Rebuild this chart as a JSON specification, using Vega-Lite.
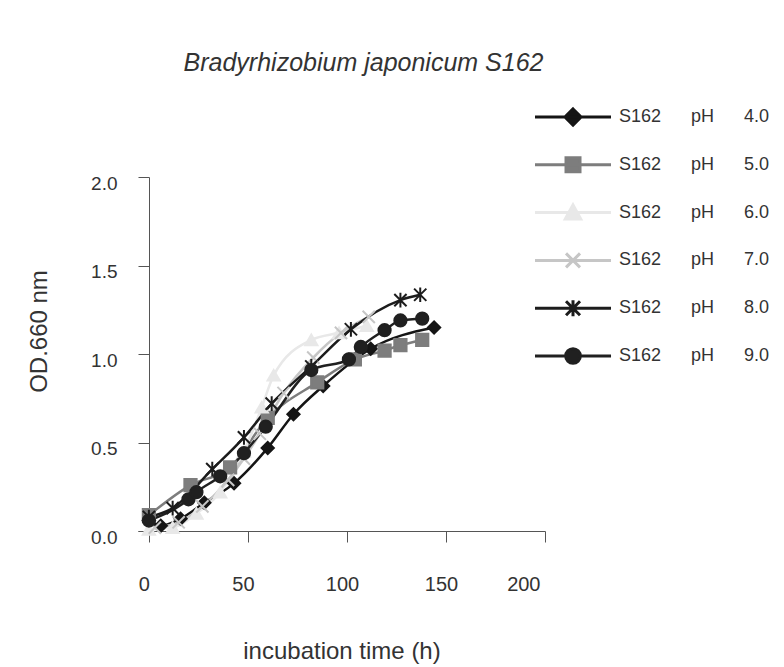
{
  "$schema": "https://vega.github.io/schema/vega-lite/v6.json",
  "width": 407,
  "height": 363,
  "autosize": {"type": "none"},
  "padding": {"left": 138, "top": 177, "right": 239, "bottom": 127},
  "background": "white",
  "title": {
    "text": "Bradyrhizobium japonicum  S162",
    "font": "Liberation Sans",
    "fontSize": 25,
    "fontStyle": "italic",
    "fontWeight": "normal",
    "color": "#333333",
    "anchor": "middle",
    "frame": "group",
    "offset": 18,
    "dx": 22
  },
  "config": {
    "view": {"stroke": null},
    "font": "Liberation Sans",
    "legend": {
      "title": null,
      "orient": "none",
      "legendX": 395,
      "legendY": -83,
      "symbolSize": 196,
      "symbolOpacity": 1,
      "symbolStrokeWidth": 3,
      "clipHeight": 46,
      "rowPadding": 1.8,
      "labelFontSize": 18,
      "labelColor": "#333333",
      "labelOffset": 68
    }
  },
  "data": {
    "values": [
      {"pH": "4.0", "t": 0, "od": 0.06},
      {"pH": "4.0", "t": 6, "od": 0.03},
      {"pH": "4.0", "t": 16, "od": 0.07},
      {"pH": "4.0", "t": 28, "od": 0.16},
      {"pH": "4.0", "t": 43, "od": 0.27},
      {"pH": "4.0", "t": 60, "od": 0.47},
      {"pH": "4.0", "t": 73, "od": 0.66},
      {"pH": "4.0", "t": 88, "od": 0.82},
      {"pH": "4.0", "t": 112, "od": 1.03},
      {"pH": "4.0", "t": 144, "od": 1.15},
      {"pH": "5.0", "t": 0, "od": 0.09},
      {"pH": "5.0", "t": 21, "od": 0.26},
      {"pH": "5.0", "t": 41, "od": 0.36},
      {"pH": "5.0", "t": 60, "od": 0.64},
      {"pH": "5.0", "t": 85, "od": 0.84},
      {"pH": "5.0", "t": 104, "od": 0.97},
      {"pH": "5.0", "t": 119, "od": 1.02},
      {"pH": "5.0", "t": 127, "od": 1.05},
      {"pH": "5.0", "t": 138, "od": 1.08},
      {"pH": "6.0", "t": 0, "od": 0.01},
      {"pH": "6.0", "t": 12, "od": 0.02},
      {"pH": "6.0", "t": 24, "od": 0.1},
      {"pH": "6.0", "t": 36, "od": 0.22},
      {"pH": "6.0", "t": 48, "od": 0.45},
      {"pH": "6.0", "t": 57, "od": 0.7},
      {"pH": "6.0", "t": 63, "od": 0.88},
      {"pH": "6.0", "t": 82, "od": 1.08},
      {"pH": "6.0", "t": 96, "od": 1.12},
      {"pH": "6.0", "t": 110, "od": 1.16},
      {"pH": "7.0", "t": 3, "od": 0.02},
      {"pH": "7.0", "t": 15, "od": 0.05},
      {"pH": "7.0", "t": 27, "od": 0.14},
      {"pH": "7.0", "t": 40, "od": 0.29},
      {"pH": "7.0", "t": 48, "od": 0.41},
      {"pH": "7.0", "t": 56, "od": 0.55},
      {"pH": "7.0", "t": 68, "od": 0.78},
      {"pH": "7.0", "t": 83, "od": 0.98},
      {"pH": "7.0", "t": 97, "od": 1.12},
      {"pH": "7.0", "t": 111, "od": 1.21},
      {"pH": "8.0", "t": 0, "od": 0.08},
      {"pH": "8.0", "t": 12, "od": 0.13},
      {"pH": "8.0", "t": 32, "od": 0.35},
      {"pH": "8.0", "t": 48, "od": 0.53},
      {"pH": "8.0", "t": 62, "od": 0.72},
      {"pH": "8.0", "t": 82, "od": 0.93},
      {"pH": "8.0", "t": 102, "od": 1.14},
      {"pH": "8.0", "t": 127, "od": 1.305},
      {"pH": "8.0", "t": 137, "od": 1.335},
      {"pH": "9.0", "t": 0, "od": 0.06},
      {"pH": "9.0", "t": 20, "od": 0.18},
      {"pH": "9.0", "t": 24, "od": 0.22},
      {"pH": "9.0", "t": 36, "od": 0.31},
      {"pH": "9.0", "t": 48, "od": 0.44},
      {"pH": "9.0", "t": 59, "od": 0.59},
      {"pH": "9.0", "t": 82, "od": 0.91},
      {"pH": "9.0", "t": 101, "od": 0.97},
      {"pH": "9.0", "t": 107, "od": 1.04},
      {"pH": "9.0", "t": 119, "od": 1.135},
      {"pH": "9.0", "t": 127, "od": 1.19},
      {"pH": "9.0", "t": 138, "od": 1.2}
    ]
  },
  "encoding": {
    "x": {
      "field": "t",
      "type": "quantitative",
      "scale": {"domain": [-5.5, 200], "nice": false, "zero": false},
      "axis": {
        "title": "incubation time (h)",
        "values": [0, 50, 100, 150, 200],
        "offset": -9,
        "grid": false,
        "domainColor": "#555555",
        "tickColor": "#555555",
        "tickSize": 11,
        "labelFontSize": 20,
        "labelColor": "#333333",
        "labelPadding": 32,
        "labelOffset": -5,
        "titleFontSize": 24,
        "titleFontWeight": "normal",
        "titleColor": "#333333",
        "titlePadding": 45
      }
    },
    "y": {
      "field": "od",
      "type": "quantitative",
      "scale": {"domain": [-0.05, 2.0], "nice": false, "zero": false},
      "axis": {
        "title": "OD.660 nm",
        "values": [0, 0.5, 1.0, 1.5, 2.0],
        "format": ".1f",
        "offset": -11,
        "grid": false,
        "domainColor": "#555555",
        "tickColor": "#555555",
        "tickSize": 11,
        "labelFontSize": 19,
        "labelColor": "#333333",
        "labelPadding": 21,
        "labelOffset": 6,
        "titleFontSize": 24,
        "titleFontWeight": "normal",
        "titleColor": "#333333",
        "titlePadding": 39,
        "titleY": 154
      }
    }
  },
  "layer": [
    {
      "mark": {"type": "line", "interpolate": "monotone", "strokeWidth": 2.5},
      "encoding": {
        "color": {
          "field": "pH",
          "type": "nominal",
          "scale": {"domain": ["4.0", "5.0", "6.0", "7.0", "8.0", "9.0"], "range": ["#151515", "#7d7d7d", "#e8e8e8", "#c6c6c6", "#1c1c1c", "#202020"]},
          "legend": null
        },
        "order": {"field": "t"}
      }
    },
    {
      "mark": {"type": "point", "filled": true, "size": 150, "strokeWidth": 2, "opacity": 1},
      "encoding": {
        "color": {"field": "pH", "type": "nominal", "legend": null},
        "stroke": {
          "field": "pH",
          "type": "nominal",
          "scale": {"domain": ["4.0", "5.0", "6.0", "7.0", "8.0", "9.0"], "range": ["#151515", "#7d7d7d", "#e8e8e8", "#c6c6c6", "#1c1c1c", "#202020"]},
          "legend": null
        },
        "shape": {
          "field": "pH",
          "type": "nominal",
          "scale": {"domain": ["4.0", "5.0", "6.0", "7.0", "8.0", "9.0"], "range": ["diamond", "square", "triangle-up", "M-1,-1L1,1M-1,1L1,-1", "M-1,-1L1,1M-1,1L1,-1M0,-1.2L0,1.2", "circle"]},
          "legend": null
        }
      }
    },
    {
      "mark": {"type": "point", "opacity": 0, "strokeWidth": 3},
      "encoding": {
        "fill": {
          "field": "pH",
          "type": "nominal",
          "scale": {"domain": ["4.0", "5.0", "6.0", "7.0", "8.0", "9.0"], "range": ["#151515", "#7d7d7d", "#e8e8e8", "#c6c6c6", "#1c1c1c", "#202020"]},
          "legend": {
            "labelExpr": "'S162\u00a0\u00a0\u00a0\u00a0\u00a0\u00a0pH\u00a0\u00a0\u00a0\u00a0\u00a0\u00a0' + datum.label"
          }
        },
        "stroke": {
          "field": "pH",
          "type": "nominal",
          "scale": {"domain": ["4.0", "5.0", "6.0", "7.0", "8.0", "9.0"], "range": ["#151515", "#7d7d7d", "#e8e8e8", "#c6c6c6", "#1c1c1c", "#202020"]},
          "legend": {
            "labelExpr": "'S162\u00a0\u00a0\u00a0\u00a0\u00a0\u00a0pH\u00a0\u00a0\u00a0\u00a0\u00a0\u00a0' + datum.label"
          }
        },
        "shape": {
          "field": "pH",
          "type": "nominal",
          "scale": {"domain": ["4.0", "5.0", "6.0", "7.0", "8.0", "9.0"], "range": [
            "M-1,0H9.86M4.43,-1.15L5.58,0L4.43,1.15L3.28,0Z",
            "M-1,0H9.86M3.43,-1H5.43V1H3.43Z",
            "M-1,0H9.86M4.43,-1.1L5.53,0.9L3.33,0.9Z",
            "M-1,0H9.86M3.43,-1L5.43,1M3.43,1L5.43,-1",
            "M-1,0H9.86M3.43,-1L5.43,1M3.43,1L5.43,-1M4.43,-1.15V1.15",
            "M-1,0H9.86M3.38,0A1.05,1.05,0,1,1,5.48,0A1.05,1.05,0,1,1,3.38,0Z"
          ]},
          "legend": {
            "labelExpr": "'S162\u00a0\u00a0\u00a0\u00a0\u00a0\u00a0pH\u00a0\u00a0\u00a0\u00a0\u00a0\u00a0' + datum.label"
          }
        }
      }
    }
  ],
  "resolve": {"scale": {"shape": "independent", "fill": "independent", "stroke": "independent"}}
}
